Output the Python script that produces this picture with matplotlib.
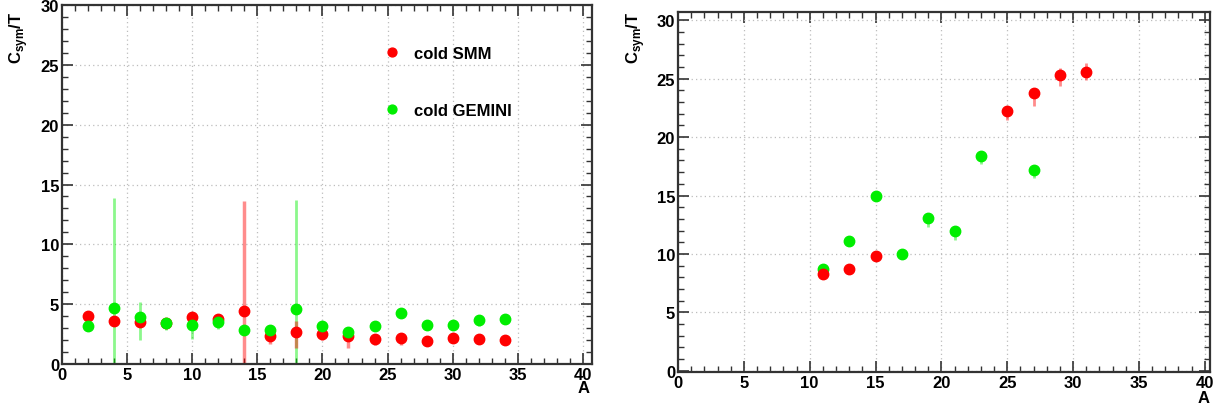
import numpy as np
import matplotlib
matplotlib.use('Agg')
import matplotlib.pyplot as plt
from matplotlib.ticker import MultipleLocator

plt.rcParams['font.family'] = ['Liberation Sans', 'DejaVu Sans']
plt.rcParams['font.weight'] = 'bold'
plt.rcParams['mathtext.fontset'] = 'custom'
plt.rcParams['mathtext.bf'] = 'Liberation Sans:bold'

# left panel : cold sources
A_left = [2, 4, 6, 8, 10, 12, 14, 16, 18, 20, 22, 24, 26, 28, 30, 32, 34]
smm_left = [4.0, 3.6, 3.5, 3.4, 3.9, 3.8, 4.4, 2.3, 2.7, 2.5, 2.3, 2.1, 2.2, 1.9, 2.2, 2.1, 2.0]
smm_left_lo = [0.3, 0.3, 0.3, 0.3, 0.3, 0.3, 4.4, 0.6, 1.4, 0.5, 1.0, 0.5, 0.6, 0.3, 0.3, 0.3, 0.3]
smm_left_hi = [0.3, 0.3, 0.3, 0.3, 0.3, 0.3, 9.2, 0.3, 0.9, 0.3, 0.3, 0.3, 0.3, 0.3, 0.3, 0.3, 0.3]
gem_left = [3.2, 4.7, 3.9, 3.4, 3.3, 3.5, 2.8, 2.8, 4.6, 3.2, 2.7, 3.2, 4.3, 3.3, 3.3, 3.7, 3.8]
gem_left_lo = [0.2, 4.7, 1.9, 0.6, 1.2, 0.6, 0.3, 0.3, 4.6, 0.3, 0.3, 0.3, 0.3, 0.3, 0.3, 0.5, 0.3]
gem_left_hi = [0.2, 9.2, 1.3, 0.3, 0.3, 0.3, 0.3, 0.3, 9.1, 0.3, 0.3, 0.3, 0.3, 0.3, 0.3, 0.3, 0.3]

# right panel
A_smm_right = [11, 13, 15, 25, 27, 29, 31]
smm_right = [8.3, 8.7, 9.8, 22.2, 23.8, 25.3, 25.6]
smm_right_lo = [0.3, 0.3, 0.3, 0.7, 1.1, 0.9, 0.7]
smm_right_hi = [0.2, 0.2, 0.2, 0.3, 0.4, 0.6, 0.7]
A_gem_right = [11, 13, 15, 17, 19, 21, 23, 27]
gem_right = [8.7, 11.1, 15.0, 10.0, 13.1, 12.0, 18.4, 17.2]
gem_right_lo = [0.3, 0.3, 0.3, 0.3, 0.8, 0.8, 0.7, 0.7]
gem_right_hi = [0.2, 0.2, 0.2, 0.2, 0.2, 0.2, 0.2, 0.2]

RED = '#ff0000'
GREEN = '#00ee00'
FS = 12

fig = plt.figure(figsize=(12.14, 4.10), dpi=100)
ax1 = fig.add_axes([62/1214, 1-365/410, 530/1214, 359/410])
ax2 = fig.add_axes([678/1214, 1-373/410, 532/1214, 360/410])


def style(ax, xlim, ylim):
    ax.set_xlim(*xlim)
    ax.set_ylim(*ylim)
    ax.xaxis.set_major_locator(MultipleLocator(5))
    ax.xaxis.set_minor_locator(MultipleLocator(1))
    ax.yaxis.set_major_locator(MultipleLocator(5))
    ax.yaxis.set_minor_locator(MultipleLocator(1))
    ax.tick_params(which='both', direction='in', top=True, right=True,
                   labelsize=FS, pad=2, color='#333333')
    ax.tick_params(which='major', length=8, width=1.2)
    ax.tick_params(which='minor', length=4, width=1.0)
    ax.grid(which='major', color='#bdbdbd', linestyle=(0, (1, 2.5)), linewidth=0.9)
    for s in ax.spines.values():
        s.set_linewidth(1.6)
        s.set_color('#333333')
    for lab in ax.get_xticklabels() + ax.get_yticklabels():
        lab.set_fontweight('bold')
    ax.set_ylabel(r'C$_{\mathbf{sym}}$/T', fontsize=FS, fontweight='bold', loc='top')
    ax.set_xlabel('A', fontsize=FS, fontweight='bold', loc='right')


# left
style(ax1, (0, 40.7), (0, 30))
ax1.errorbar(A_left, gem_left, yerr=[gem_left_lo, gem_left_hi], fmt='none',
             ecolor=GREEN, elinewidth=2, alpha=0.45, capsize=0)
ax1.errorbar(A_left, smm_left, yerr=[smm_left_lo, smm_left_hi], fmt='none',
             ecolor=RED, elinewidth=2.5, alpha=0.45, capsize=0)
ax1.plot(A_left, smm_left, 'o', color=RED, ms=7.5, mec=RED, label='cold SMM')
ax1.plot(A_left, gem_left, 'o', color=GREEN, ms=7.5, mec=GREEN, label='cold GEMINI')
ax1.legend(loc='upper left', bbox_to_anchor=(0.594, 0.91), frameon=False,
           borderpad=0, handlelength=0.8, handletextpad=0.95, labelspacing=2.55,
           markerscale=0.85, prop={'size': FS, 'weight': 'bold'})
ax1.yaxis.set_label_coords(-0.060, 0.985)
ax1.xaxis.set_label_coords(0.995, -0.045)

# right
style(ax2, (0, 40.4), (-0.1, 30.7))
ax2.errorbar(A_gem_right, gem_right, yerr=[gem_right_lo, gem_right_hi], fmt='none',
             ecolor=GREEN, elinewidth=2, alpha=0.45, capsize=0)
ax2.errorbar(A_smm_right, smm_right, yerr=[smm_right_lo, smm_right_hi], fmt='none',
             ecolor=RED, elinewidth=2, alpha=0.45, capsize=0)
ax2.plot(A_gem_right, gem_right, 'o', color=GREEN, ms=7.5, mec=GREEN)
ax2.plot(A_smm_right, smm_right, 'o', color=RED, ms=7.5, mec=RED)
ax2.yaxis.set_label_coords(-0.058, 1.005)
ax2.xaxis.set_label_coords(1.0, -0.05)

fig.savefig('out.png', dpi=100)
